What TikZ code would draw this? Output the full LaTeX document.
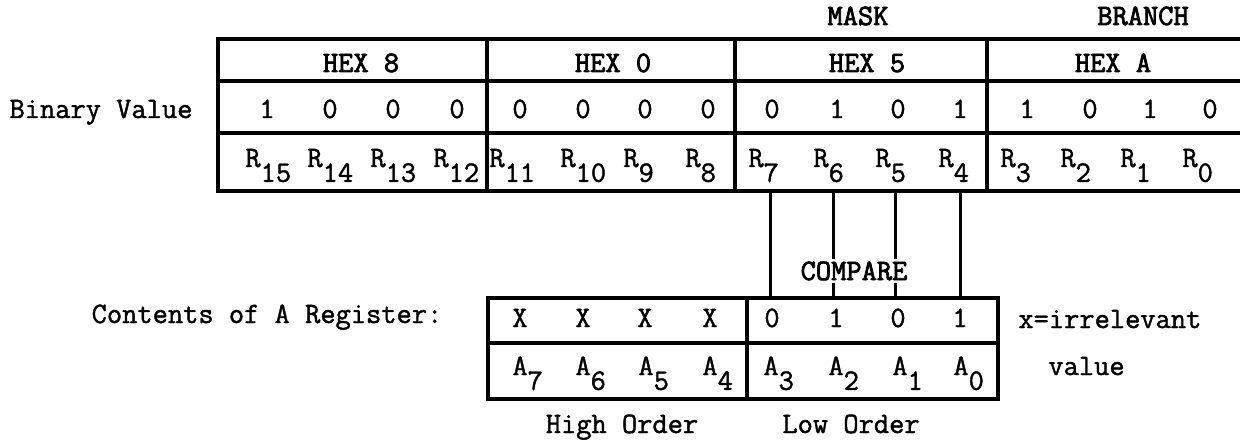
\documentclass[tikz,border=0pt]{standalone}
\usepackage{fontspec}
\newfontfamily\typew{Latin Modern Mono}[FakeBold=1.4]
\newfontfamily\typewheavy{Latin Modern Mono}[FakeBold=2.6]
\newcommand\lowsub[2]{#1\raisebox{-0.5em}{#2}}
\begin{document}
\begin{tikzpicture}[x=0.5pt,y=-0.5pt,
  font=\typew\fontsize{14.8}{16}\selectfont,
  tbl/.style={line width=1.7pt, line cap=rect},
  wire/.style={line width=1.5pt},
  txt/.style={inner sep=0pt, anchor=base},
  ltxt/.style={inner sep=0pt, anchor=base west},
  htxt/.style={inner sep=0pt, anchor=base, font=\typewheavy\fontsize{14.8}{16}\selectfont}]
\useasboundingbox (0,0) rectangle (1240,443);

% ---- top register table ----
\draw[tbl] (1240,39) -- (218,39) -- (218,191) -- (1240,191);
\draw[tbl] (218,81) -- (1240,81);
\draw[tbl] (218,133) -- (1240,133);
\foreach \x in {487,735,987} \draw[tbl] (\x,39) -- (\x,191);

\node[txt] (bin) at (101,118) {Binary Value};
\node[htxt] (mask) at (858,25) {MASK};
\node[htxt] (branch) at (1143,25) {BRANCH};
\node[htxt] (h8) at (361,72) {HEX 8};
\node[htxt] (h0) at (613,72) {HEX 0};
\node[htxt] (h5) at (867,72) {HEX 5};
\node[htxt] (hA) at (1113,72) {HEX A};

\foreach \x/\v [count=\i] in {267/1,330/0,393/0,457/0,520/0,583/0,645/0,708/0,
  772/0,837/1,898/0,960/1,1027/1,1090/0,1150/1,1210/0}
  \node[txt] (b\i) at (\x,118) {\v};

\foreach \x/\r in {245/15,307/14,370/13,433/12,489/11,560/10,623/9,685/8,
  748/7,813/6,875/5,938/4,1000/3,1060/2,1120/1,1182/0}
  \node[ltxt] (r\r) at (\x,167) {\lowsub{R}{\r}};

% ---- A register table ----
\draw[tbl] (488,298) rectangle (998,399);
\draw[tbl] (488,343) -- (998,343);
\draw[tbl] (747,298) -- (747,399);

\node[txt] (cont) at (267,323) {Contents of A Register:};
\foreach \x/\v [count=\i] in {520/X,583/X,645/X,710/X,772/0,836/1,898/0,960/1}
  \node[txt] (a\i) at (\x,327) {\v};
\foreach \x/\r in {512/7,575/6,638/5,702/4,763/3,828/2,892/1,953/0}
  \node[ltxt] (an\r) at (\x,375) {\lowsub{A}{\r}};

\node[ltxt] (irr) at (1018,328) {x=irrelevant};
\node[ltxt] (val) at (1048,375) {value};
\node[txt] (high) at (622,433) {High Order};
\node[txt] (low) at (851,433) {Low Order};

% ---- compare connectors ----
\foreach \x/\n in {770/7,833/6,895/5,960/4}{
  \coordinate (t\n) at (\x,191);
  \coordinate (u\n) at (\x,298);
  \draw[wire] (t\n) -- (u\n);
}
\node[htxt, fill=white, inner sep=1.5pt] (cmp) at (854,280) {COMPARE};
\end{tikzpicture}
\end{document}
